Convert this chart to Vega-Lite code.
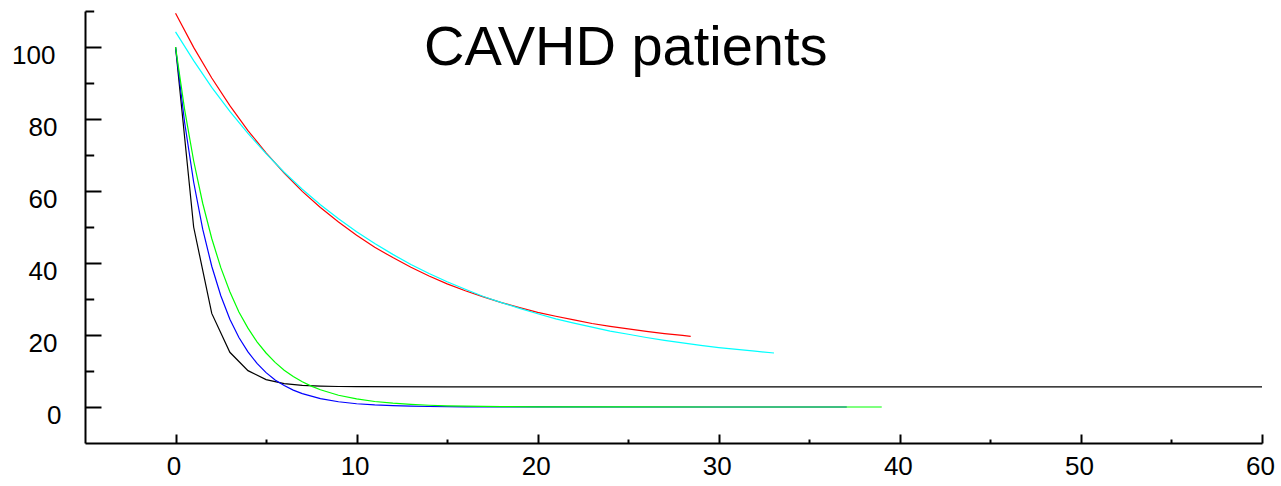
{
  "$schema": "https://vega.github.io/schema/vega-lite/v6.json",
  "width": 1177,
  "height": 432,
  "autosize": {"type": "none"},
  "padding": {"left": 85, "top": 11, "right": 19, "bottom": 43},
  "background": "white",
  "title": {
    "text": "CAVHD patients",
    "font": "Liberation Sans",
    "fontSize": 56,
    "fontWeight": "normal",
    "color": "black",
    "anchor": "start",
    "frame": "group",
    "baseline": "alphabetic",
    "offset": 0,
    "dx": 339,
    "dy": 115
  },
  "config": {
    "view": {"stroke": null},
    "axis": {
      "grid": false,
      "domainColor": "black",
      "domainWidth": 2,
      "tickColor": "black",
      "tickWidth": 2,
      "labelFont": "Liberation Sans",
      "labelFontSize": 26,
      "labelColor": "black",
      "title": null
    }
  },
  "data": {
    "values": [
      {"series": "1", "x": 0, "y": 100}, {"series": "1", "x": 1, "y": 50}, {"series": "1", "x": 2, "y": 26},
      {"series": "1", "x": 3, "y": 15.2}, {"series": "1", "x": 4, "y": 10.1}, {"series": "1", "x": 5, "y": 7.6},
      {"series": "1", "x": 6, "y": 6.5}, {"series": "1", "x": 7, "y": 6.0}, {"series": "1", "x": 8, "y": 5.8},
      {"series": "1", "x": 9, "y": 5.7}, {"series": "1", "x": 10, "y": 5.65}, {"series": "1", "x": 15, "y": 5.6},
      {"series": "1", "x": 20, "y": 5.6}, {"series": "1", "x": 30, "y": 5.6}, {"series": "1", "x": 40, "y": 5.6},
      {"series": "1", "x": 50, "y": 5.6}, {"series": "1", "x": 60, "y": 5.6},

      {"series": "2", "x": 0, "y": 100}, {"series": "2", "x": 0.5, "y": 79.1}, {"series": "2", "x": 1, "y": 62.5},
      {"series": "2", "x": 1.5, "y": 49.4}, {"series": "2", "x": 2, "y": 39.1}, {"series": "2", "x": 2.5, "y": 30.9},
      {"series": "2", "x": 3, "y": 24.4}, {"series": "2", "x": 3.5, "y": 19.3}, {"series": "2", "x": 4, "y": 15.3},
      {"series": "2", "x": 4.5, "y": 12.1}, {"series": "2", "x": 5, "y": 9.54}, {"series": "2", "x": 5.5, "y": 7.5},
      {"series": "2", "x": 6, "y": 5.96}, {"series": "2", "x": 6.5, "y": 4.7}, {"series": "2", "x": 7, "y": 3.73},
      {"series": "2", "x": 8, "y": 2.33}, {"series": "2", "x": 9, "y": 1.45}, {"series": "2", "x": 10, "y": 0.91},
      {"series": "2", "x": 11, "y": 0.57}, {"series": "2", "x": 12, "y": 0.36}, {"series": "2", "x": 13, "y": 0.22},
      {"series": "2", "x": 14, "y": 0.14}, {"series": "2", "x": 16, "y": 0.05}, {"series": "2", "x": 20, "y": 0.01},
      {"series": "2", "x": 25, "y": 0}, {"series": "2", "x": 37.07, "y": 0},

      {"series": "3", "x": 0, "y": 100}, {"series": "3", "x": 0.5, "y": 82.7}, {"series": "3", "x": 1, "y": 68.4},
      {"series": "3", "x": 1.5, "y": 56.6}, {"series": "3", "x": 2, "y": 46.8}, {"series": "3", "x": 2.5, "y": 38.7},
      {"series": "3", "x": 3, "y": 32.0}, {"series": "3", "x": 3.5, "y": 26.4}, {"series": "3", "x": 4, "y": 21.9},
      {"series": "3", "x": 4.5, "y": 18.1}, {"series": "3", "x": 5, "y": 15.0}, {"series": "3", "x": 5.5, "y": 12.4},
      {"series": "3", "x": 6, "y": 10.2}, {"series": "3", "x": 6.5, "y": 8.5}, {"series": "3", "x": 7, "y": 7.0},
      {"series": "3", "x": 7.5, "y": 5.8}, {"series": "3", "x": 8, "y": 4.78}, {"series": "3", "x": 9, "y": 3.27},
      {"series": "3", "x": 10, "y": 2.24}, {"series": "3", "x": 11, "y": 1.53}, {"series": "3", "x": 12, "y": 1.05},
      {"series": "3", "x": 13, "y": 0.72}, {"series": "3", "x": 14, "y": 0.49}, {"series": "3", "x": 15, "y": 0.33},
      {"series": "3", "x": 16, "y": 0.23}, {"series": "3", "x": 18, "y": 0.11}, {"series": "3", "x": 20, "y": 0.05},
      {"series": "3", "x": 25, "y": 0.01}, {"series": "3", "x": 30, "y": 0}, {"series": "3", "x": 39.0, "y": 0},

      {"series": "4", "x": 0, "y": 109.4}, {"series": "4", "x": 1, "y": 99.9}, {"series": "4", "x": 2, "y": 91.4},
      {"series": "4", "x": 3, "y": 83.7}, {"series": "4", "x": 4, "y": 76.8}, {"series": "4", "x": 5, "y": 70.6},
      {"series": "4", "x": 6, "y": 65.0}, {"series": "4", "x": 7, "y": 59.9}, {"series": "4", "x": 8, "y": 55.4},
      {"series": "4", "x": 9, "y": 51.4}, {"series": "4", "x": 10, "y": 47.7}, {"series": "4", "x": 11, "y": 44.4},
      {"series": "4", "x": 12, "y": 41.5}, {"series": "4", "x": 13, "y": 38.8}, {"series": "4", "x": 14, "y": 36.4},
      {"series": "4", "x": 15, "y": 34.2}, {"series": "4", "x": 16, "y": 32.3}, {"series": "4", "x": 17, "y": 30.6},
      {"series": "4", "x": 18, "y": 29.0}, {"series": "4", "x": 19, "y": 27.6}, {"series": "4", "x": 20, "y": 26.3},
      {"series": "4", "x": 21, "y": 25.2}, {"series": "4", "x": 22, "y": 24.2}, {"series": "4", "x": 23, "y": 23.2},
      {"series": "4", "x": 24, "y": 22.4}, {"series": "4", "x": 25, "y": 21.7}, {"series": "4", "x": 26, "y": 21.0},
      {"series": "4", "x": 27, "y": 20.4}, {"series": "4", "x": 28, "y": 19.9}, {"series": "4", "x": 28.45, "y": 19.6},

      {"series": "5", "x": 0, "y": 104.2}, {"series": "5", "x": 1, "y": 96.2}, {"series": "5", "x": 2, "y": 88.8},
      {"series": "5", "x": 3, "y": 82.1}, {"series": "5", "x": 4, "y": 76.0}, {"series": "5", "x": 5, "y": 70.4},
      {"series": "5", "x": 6, "y": 65.2}, {"series": "5", "x": 7, "y": 60.5}, {"series": "5", "x": 8, "y": 56.2},
      {"series": "5", "x": 9, "y": 52.3}, {"series": "5", "x": 10, "y": 48.7}, {"series": "5", "x": 11, "y": 45.4},
      {"series": "5", "x": 12, "y": 42.4}, {"series": "5", "x": 13, "y": 39.6}, {"series": "5", "x": 14, "y": 37.1},
      {"series": "5", "x": 15, "y": 34.8}, {"series": "5", "x": 16, "y": 32.7}, {"series": "5", "x": 17, "y": 30.7},
      {"series": "5", "x": 18, "y": 29.0}, {"series": "5", "x": 19, "y": 27.4}, {"series": "5", "x": 20, "y": 25.9},
      {"series": "5", "x": 21, "y": 24.5}, {"series": "5", "x": 22, "y": 23.3}, {"series": "5", "x": 23, "y": 22.2},
      {"series": "5", "x": 24, "y": 21.1}, {"series": "5", "x": 25, "y": 20.2}, {"series": "5", "x": 26, "y": 19.3},
      {"series": "5", "x": 27, "y": 18.5}, {"series": "5", "x": 28, "y": 17.8}, {"series": "5", "x": 29, "y": 17.1},
      {"series": "5", "x": 30, "y": 16.5}, {"series": "5", "x": 31, "y": 16.0}, {"series": "5", "x": 32, "y": 15.5},
      {"series": "5", "x": 33.05, "y": 15.0}
    ]
  },
  "mark": {"type": "line", "strokeWidth": 1.2, "clip": false},
  "encoding": {
    "x": {
      "field": "x",
      "type": "quantitative",
      "scale": {"domain": [-5, 60], "nice": false, "zero": false},
      "axis": {
        "values": [0, 5, 10, 15, 20, 25, 30, 35, 40, 45, 50, 55, 60],
        "tickSize": {"condition": {"test": "datum.value % 10 != 0", "value": -4}, "value": -9},
        "labelExpr": "datum.value % 10 == 0 ? datum.label : ''",
        "labelBaseline": "top",
        "labelPadding": 19.5,
        "labelOffset": -2,
        "labelFlush": false,
        "labelOverlap": false
      }
    },
    "y": {
      "field": "y",
      "type": "quantitative",
      "scale": {"domain": [-10, 110], "nice": false, "zero": false},
      "axis": {
        "values": [0, 10, 20, 30, 40, 50, 60, 70, 80, 90, 100, 110],
        "tickSize": {"condition": {"test": "datum.value % 20 != 0", "value": -8.7}, "value": -16},
        "labelExpr": "(datum.value % 20 == 0 && datum.value <= 100) ? datum.label : ''",
        "labelAlign": "right",
        "labelBaseline": "alphabetic",
        "labelOffset": 16,
        "labelPadding": {"condition": [{"test": "datum.value == 100", "value": 46}, {"test": "datum.value == 0", "value": 40}], "value": 44},
        "labelFlush": false,
        "labelOverlap": false
      }
    },
    "color": {
      "field": "series",
      "type": "nominal",
      "scale": {"domain": ["1", "2", "3", "4", "5"], "range": ["#000000", "#0000ff", "#00ff00", "#ff0000", "#00ffff"]},
      "legend": null
    }
  }
}
